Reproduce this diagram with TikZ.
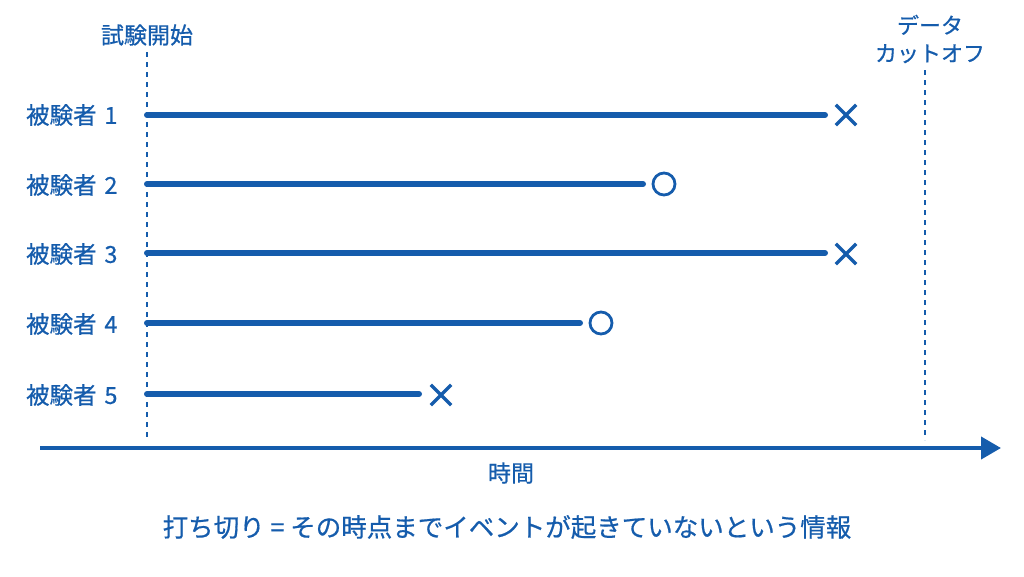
\documentclass[tikz,border=0pt]{standalone}
\usepackage{fontspec}
\setmainfont{Noto Sans CJK JP}[FakeBold=0.6]
\usetikzlibrary{arrows.meta,shapes.misc}
\definecolor{survblue}{RGB}{21,92,172}
\begin{document}
\begin{tikzpicture}[x=1pt,y=1pt,
  every node/.style={text=survblue},
  subject/.style={anchor=east,font=\fontsize{23.5}{26}\selectfont},
  event/.style={draw=survblue,line width=6pt,line cap=round},
  guide/.style={draw=survblue,line width=1.3pt,dash pattern=on 5pt off 5pt},
  death/.style={cross out,draw=survblue,line width=3.4pt,minimum size=17pt,inner sep=0pt},
  censor/.style={circle,draw=survblue,line width=2.8pt,minimum size=22pt,inner sep=0pt}]
\useasboundingbox (0,0) rectangle (1024,-576);
% guides
\node (start) at (147,-35) {\fontsize{23}{26}\selectfont 試験開始};
\node (cutoff) [align=center,font=\fontsize{22}{28}\selectfont] at (930,-39) {データ\\カットオフ};
\coordinate (start top) at (147,-52);
\coordinate (start bot) at (147,-440);
\coordinate (cut top) at (925,-70);
\coordinate (cut bot) at (925,-440);
\draw [guide] (start top) -- (start bot);
\draw [guide] (cut top) -- (cut bot);
% subject 1
\node (l1) [subject] at (121,-115) {被験者\,\,1};
\coordinate (s1) at (147,-115);
\coordinate (e1) at (825,-115);
\draw [event] (s1) -- (e1);
\node (m1) [death] at (846,-115) {};
% subject 2
\node (l2) [subject] at (121,-185) {被験者\,\,2};
\coordinate (s2) at (147,-184);
\coordinate (e2) at (643,-184);
\draw [event] (s2) -- (e2);
\node (m2) [censor] at (664,-184) {};
% subject 3
\node (l3) [subject] at (121,-254) {被験者\,\,3};
\coordinate (s3) at (147,-253);
\coordinate (e3) at (825,-253);
\draw [event] (s3) -- (e3);
\node (m3) [death] at (846,-254) {};
% subject 4
\node (l4) [subject] at (121,-324) {被験者\,\,4};
\coordinate (s4) at (147,-323);
\coordinate (e4) at (580,-323);
\draw [event] (s4) -- (e4);
\node (m4) [censor] at (601,-323) {};
% subject 5
\node (l5) [subject] at (121,-395) {被験者\,\,5};
\coordinate (s5) at (147,-394);
\coordinate (e5) at (419,-394);
\draw [event] (s5) -- (e5);
\node (m5) [death] at (441,-395) {};
% time axis
\coordinate (t0) at (40,-448);
\coordinate (t1) at (1001,-448);
\draw [survblue,line width=4pt,-{Triangle[length=20pt,width=22pt]}] (t0) -- (t1);
\node (time) at (511,-473) {\fontsize{23}{26}\selectfont 時間};
% note
\node (note) at (507,-527) {\fontsize{25.5}{30}\selectfont 打ち切り = その時点までイベントが起きていないという情報};
\end{tikzpicture}
\end{document}
